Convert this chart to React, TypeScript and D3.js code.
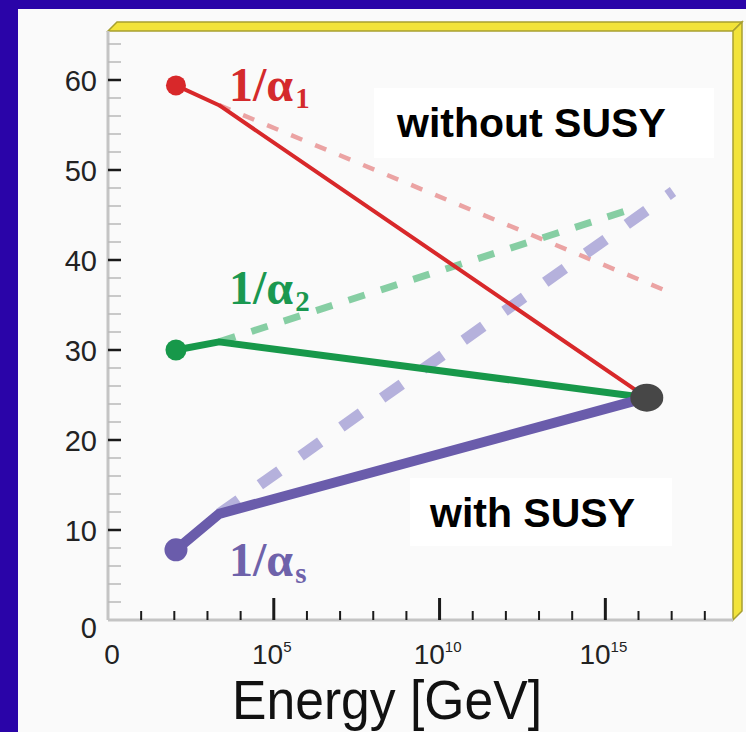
import React from "react";
import * as d3 from "d3";

// ---- data (log10 of energy in GeV, inverse couplings) ----
const solidLogE = [2.05, 3.35, 16.25];
const invAlpha1 = [59.4, 57.2, 24.7];
const invAlpha2 = [30.0, 30.9, 24.7];
const invAlphaS = [7.8, 11.8, 24.7];

const dashedLogE1 = [3.35, 16.95];
const dashedAlpha1 = [57.2, 36.4];
const dashedLogE2 = [3.35, 15.83];
const dashedAlpha2 = [30.9, 45.7];
const dashedLogES = [3.35, 17.04];
const dashedAlphaS = [11.8, 47.6];

const unifyLogE = 16.25;
const unifyValue = 24.7;

const yMajorTicks = [0, 10, 20, 30, 40, 50, 60];
const yMinorTicks = [2, 4, 6, 8, 12, 14, 16, 18, 22, 24, 26, 28, 32, 34, 36, 38, 42, 44, 46, 48, 52, 54, 56, 58, 62, 64];
const xMajorExps = [5, 10, 15];
const xMinorExps = [1, 2, 3, 4, 6, 7, 8, 9, 11, 12, 13, 14, 16, 17, 18];
const xLabelExps = [0, 5, 10, 15];

const W = 746;
const H = 732;
const X0 = 108;
const XR = 733;
const Y0 = 620;
const YT = 31;

export default function App() {
  const x = d3.scaleLog().domain([1, Math.pow(10, 18.85)]).range([X0, XR]);
  const y = d3.scaleLinear().domain([0, 60]).range([Y0, 80]);
  const line = d3
    .line<[number, number]>()
    .x((d) => x(Math.pow(10, d[0])))
    .y((d) => y(d[1]));
  const pts = (es: number[], vs: number[]) => es.map((e, i) => [e, vs[i]] as [number, number]);

  const red = "#d8282a";
  const green = "#17984a";
  const purple = "#6a5cab";
  const font = "'Liberation Sans', Arial, sans-serif";
  const serif = "'Liberation Serif', 'Times New Roman', serif";

  const solids = [
    { v: invAlpha1, c: red, w: 4, r: 10 },
    { v: invAlpha2, c: green, w: 7, r: 10.5 },
    { v: invAlphaS, c: purple, w: 10, r: 11.5 },
  ];
  const dashes = [
    { e: dashedLogE1, v: dashedAlpha1, c: "#eba3a3", w: 4.5, da: "12 14" },
    { e: dashedLogE2, v: dashedAlpha2, c: "#86cea3", w: 7, da: "17 17" },
    { e: dashedLogES, v: dashedAlphaS, c: "#b5b1dc", w: 11, da: "24 26" },
  ];

  return (
    <svg width={W} height={H} style={{ position: "absolute", left: 0, top: 0 }}>
      <rect x={0} y={0} width={W} height={H} fill="#2a04a8" />
      <rect x={18} y={9} width={W - 18} height={H - 9} fill="#fafafa" />

      {/* 3D yellow frame */}
      <polygon
        points={`${X0},${YT} ${X0 + 9},${YT - 9} ${XR + 9},${YT - 9} ${XR},${YT}`}
        fill="#f2e33a"
        stroke="#a8a030"
        strokeWidth={1.5}
      />
      <polygon
        points={`${XR},${YT} ${XR + 9},${YT - 9} ${XR + 9},${Y0 - 9} ${XR},${Y0}`}
        fill="#f2e33a"
        stroke="#a8a030"
        strokeWidth={1.5}
      />

      {/* text boxes */}
      <rect x={374} y={88} width={340} height={70} fill="#ffffff" />
      <rect x={410} y={478} width={262} height={68} fill="#ffffff" />

      {/* axes */}
      <line x1={X0} y1={YT} x2={X0} y2={Y0} stroke="#c4c4c4" strokeWidth={3} />
      <line x1={X0} y1={Y0} x2={XR} y2={Y0} stroke="#c4c4c4" strokeWidth={3} />
      {yMinorTicks.map((t) => (
        <line key={"ym" + t} x1={X0} x2={X0 + 13} y1={y(t)} y2={y(t)} stroke="#b8b8b8" strokeWidth={1.5} />
      ))}
      {yMajorTicks.filter((t) => t > 0).map((t) => (
        <line key={"yM" + t} x1={X0} x2={X0 + 13} y1={y(t)} y2={y(t)} stroke="#1a1a1a" strokeWidth={2.5} />
      ))}
      {yMajorTicks.map((t) => (
        <text
          key={"yl" + t}
          x={97}
          y={y(t) + (t === 0 ? 18 : 10.5)}
          textAnchor="end"
          fontFamily={font}
          fontSize={29}
          fill="#222"
        >
          {t}
        </text>
      ))}
      {xMinorExps.map((e) => (
        <line key={"xm" + e} x1={x(Math.pow(10, e))} x2={x(Math.pow(10, e))} y1={Y0 - 9} y2={Y0} stroke="#1a1a1a" strokeWidth={2} />
      ))}
      {xMajorExps.map((e) => (
        <line key={"xM" + e} x1={x(Math.pow(10, e))} x2={x(Math.pow(10, e))} y1={Y0 - 22} y2={Y0} stroke="#1a1a1a" strokeWidth={3} />
      ))}
      {xLabelExps.map((e) =>
        e === 0 ? (
          <text key="xl0" x={x(1) + 4} y={664} textAnchor="middle" fontFamily={font} fontSize={28} fill="#222">
            0
          </text>
        ) : (
          <text key={"xl" + e} x={x(Math.pow(10, e)) - 2} y={664} textAnchor="middle" fontFamily={font} fontSize={28} fill="#222">
            10
            <tspan fontSize={15} dy={-12}>
              {e}
            </tspan>
          </text>
        )
      )}
      <text
        x={232}
        y={719}
        fontFamily={font}
        fontSize={55}
        fill="#111"
        textLength={310}
        lengthAdjust="spacingAndGlyphs"
      >
        Energy [GeV]
      </text>

      {/* dashed: without SUSY */}
      {dashes.map((d, i) => (
        <path key={"d" + i} d={line(pts(d.e, d.v)) || ""} fill="none" stroke={d.c} strokeWidth={d.w} strokeDasharray={d.da} />
      ))}

      {/* solid: with SUSY */}
      {solids.map((s, i) => (
        <g key={"s" + i}>
          <path d={line(pts(solidLogE, s.v)) || ""} fill="none" stroke={s.c} strokeWidth={s.w} strokeLinejoin="round" />
          <circle cx={x(Math.pow(10, solidLogE[0]))} cy={y(s.v[0])} r={s.r} fill={s.c} />
        </g>
      ))}
      <ellipse cx={x(Math.pow(10, unifyLogE))} cy={y(unifyValue)} rx={16.5} ry={14} fill="#474747" />

      {/* curve labels */}
      <text x={229} y={101} fontFamily={serif} fontWeight="bold" fontSize={48} fill="#d42a2c">
        1/α<tspan fontSize={29} dx={2} dy={7}>1</tspan>
      </text>
      <text x={229} y={304} fontFamily={serif} fontWeight="bold" fontSize={48} fill="#1a9850">
        1/α<tspan fontSize={29} dx={2} dy={7}>2</tspan>
      </text>
      <text x={229} y={576} fontFamily={serif} fontWeight="bold" fontSize={48} fill="#6e62aa">
        1/α<tspan fontSize={29} dx={2} dy={7}>s</tspan>
      </text>

      <text x={397} y={137} fontFamily={font} fontWeight="bold" fontSize={41} fill="#000">
        without SUSY
      </text>
      <text x={430} y={527} fontFamily={font} fontWeight="bold" fontSize={41} fill="#000">
        with SUSY
      </text>
    </svg>
  );
}
